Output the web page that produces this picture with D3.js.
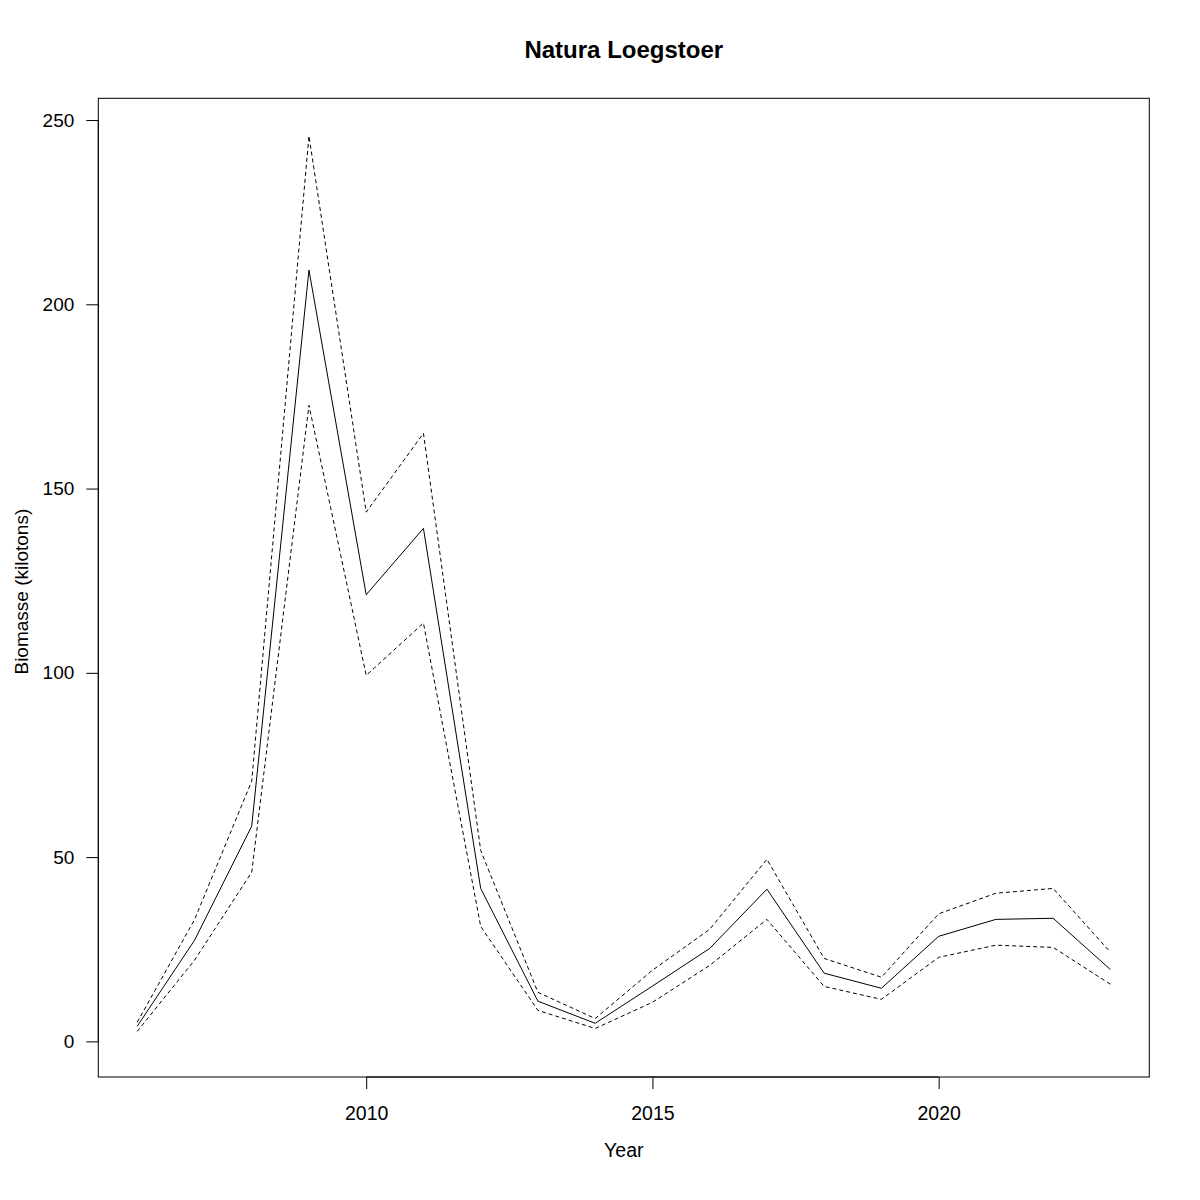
<!DOCTYPE html>
<html>
<head>
<meta charset="utf-8">
<script src="https://cdn.jsdelivr.net/npm/d3@7"></script>
<style>
  html, body { margin: 0; padding: 0; background: #fff; }
  svg { display: block; font-family: "Liberation Sans", Arial, Helvetica, sans-serif; }
</style>
</head>
<body>
<svg id="chart" width="1200" height="1200"></svg>
<script>
const years = [2006, 2007, 2008, 2009, 2010, 2011, 2012, 2013, 2014, 2015, 2016, 2017, 2018, 2019, 2020, 2021, 2022, 2023];
const biomass = [4.1, 27.4, 58.4, 209.3, 121.2, 139.2, 41.5, 10.9, 4.9, 15.0, 25.2, 41.3, 18.5, 14.4, 28.5, 33.1, 33.4, 19.5];
const upper   = [5.2, 33.0, 70.6, 245.7, 143.6, 165.0, 51.8, 13.3, 6.2, 19.3, 30.4, 49.4, 22.5, 17.4, 34.6, 40.2, 41.5, 24.2];
const lower   = [2.7, 22.0, 45.9, 172.6, 99.3, 113.5, 31.2, 8.4, 3.5, 10.6, 20.6, 33.1, 14.9, 11.4, 22.8, 26.1, 25.5, 15.5];
const xTicks = [2010, 2015, 2020];
const yTicks = [0, 50, 100, 150, 200, 250];
const title = "Natura Loegstoer";
const xLabel = "Year";
const yLabel = "Biomasse (kilotons)";

const box = { left: 98.3, right: 1149.3, top: 98.3, bottom: 1077 };
const svg = d3.select("#chart");

const x = d3.scaleLinear().domain([2005.32, 2023.68]).range([box.left, box.right]);
const y = d3.scaleLinear().domain([-9.67, 255.9]).range([box.bottom, box.top]);

// Box
svg.append("rect")
  .attr("x", box.left).attr("y", box.top)
  .attr("width", box.right - box.left).attr("height", box.bottom - box.top)
  .attr("fill", "none").attr("stroke", "#000").attr("stroke-width", 1);

// Axes
const xAxis = d3.axisBottom(x).tickValues(xTicks).tickFormat(d3.format("d")).tickSize(12).tickPadding(17);
const gx = svg.append("g").attr("transform", `translate(0,${box.bottom})`).call(xAxis);
gx.select(".domain").attr("d", `M${x(xTicks[0])},0H${x(xTicks[xTicks.length-1])}`);
gx.selectAll("text").attr("font-size", 19.5).attr("font-family", "Liberation Sans, Arial, sans-serif").attr("fill", "#000");

const yAxis = d3.axisLeft(y).tickValues(yTicks).tickSize(12).tickPadding(12);
const gy = svg.append("g").attr("transform", `translate(${box.left},0)`).call(yAxis);
gy.select(".domain").attr("d", `M0,${y(yTicks[0])}V${y(yTicks[yTicks.length-1])}`);
gy.selectAll("text").attr("font-size", 19).attr("font-family", "Liberation Sans, Arial, sans-serif").attr("fill", "#000");

// Lines
const line = d3.line().x((d, i) => x(years[i])).y(d => y(d));
svg.append("path").datum(upper).attr("d", line)
  .attr("fill", "none").attr("stroke", "#000").attr("stroke-width", 1).attr("stroke-dasharray", "4,3");
svg.append("path").datum(lower).attr("d", line)
  .attr("fill", "none").attr("stroke", "#000").attr("stroke-width", 1).attr("stroke-dasharray", "4,3");
svg.append("path").datum(biomass).attr("d", line)
  .attr("fill", "none").attr("stroke", "#000").attr("stroke-width", 1);

// Title and labels
const cx = (box.left + box.right) / 2;
svg.append("text").attr("x", cx).attr("y", 58).attr("text-anchor", "middle")
  .attr("font-size", 24).attr("font-weight", "bold").text(title);
svg.append("text").attr("x", cx).attr("y", 1157).attr("text-anchor", "middle")
  .attr("font-size", 19.5).text(xLabel);
svg.append("text").attr("transform", `translate(28,${(box.top + box.bottom) / 2 + 4}) rotate(-90)`)
  .attr("text-anchor", "middle").attr("font-size", 19).text(yLabel);
</script>
</body>
</html>
